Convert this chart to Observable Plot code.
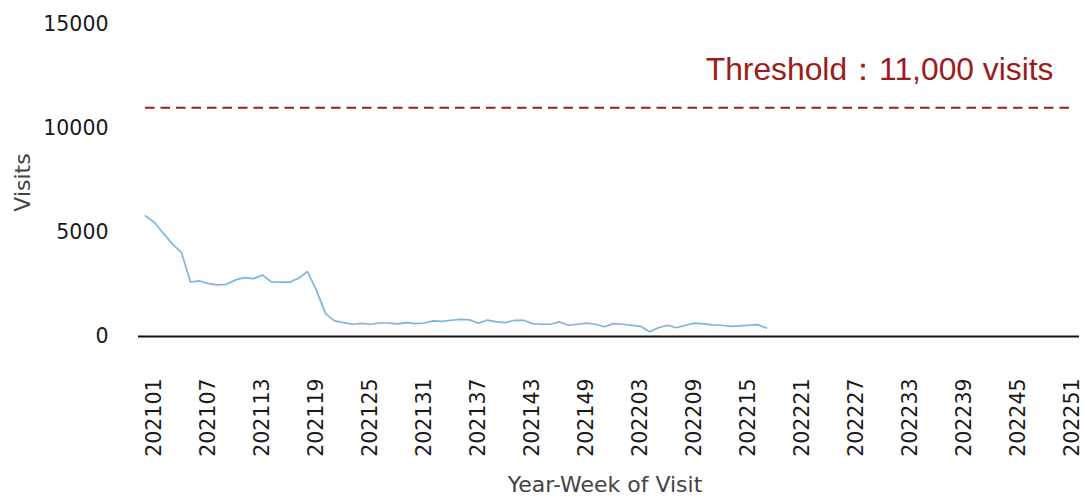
<!DOCTYPE html>
<html><head><meta charset="utf-8">
<script src="https://cdn.jsdelivr.net/npm/d3@7"></script>
<script src="https://cdn.jsdelivr.net/npm/@observablehq/plot@0.6"></script>
<style>body{margin:0;background:#fff} #chart svg{display:block}</style>
</head><body><div id="chart"></div>
<script>
const weeks = [
"202101","202102","202103","202104","202105","202106","202107","202108","202109","202110",
"202111","202112","202113","202114","202115","202116","202117","202118","202119","202120",
"202121","202122","202123","202124","202125","202126","202127","202128","202129","202130",
"202131","202132","202133","202134","202135","202136","202137","202138","202139","202140",
"202141","202142","202143","202144","202145","202146","202147","202148","202149","202150",
"202151","202152",
"202201","202202","202203","202204","202205","202206","202207","202208","202209","202210",
"202211","202212","202213","202214","202215","202216","202217","202218","202219","202220",
"202221","202222","202223","202224","202225","202226","202227","202228","202229","202230",
"202231","202232","202233","202234","202235","202236","202237","202238","202239","202240",
"202241","202242","202243","202244","202245","202246","202247","202248","202249","202250",
"202251","202252"];
const visits = [
5800,5480,4950,4440,4030,2620,2670,2540,2480,2510,
2720,2830,2780,2950,2620,2610,2610,2800,3120,2220,
1100,750,670,590,630,590,650,650,610,670,
620,650,750,730,780,820,800,640,790,700,
670,780,780,620,590,590,700,540,590,640,
590,470,620,590,540,490,230,420,540,420,
540,640,610,560,540,490,510,540,570,410];
const tickWeeks = ["202101","202107","202113","202119","202125","202131","202137","202143","202149",
"202203","202209","202215","202221","202227","202233","202239","202245","202251"];
const yTicks = [0,5000,10000,15000];
const threshold = 11000;
const thresholdLabel = "Threshold：11,000 visits";

const rows = visits.map((v, i) => ({week: weeks[i], visits: v}));
const thresholdRow = [{y: threshold, a: weeks[0], b: weeks[weeks.length - 1]}];

const chart = Plot.plot({
  width: 1085, height: 497,
  marginTop: 24, marginBottom: 161, marginLeft: 138, marginRight: 6,
  style: {fontFamily: "DejaVu Sans", background: "#fff"},
  x: {type: "point", domain: weeks, padding: 0.45},
  y: {domain: [0, 15000]},
  marks: [
    Plot.axisY({ticks: yTicks, tickFormat: d => String(d), tickSize: 0, tickPadding: 30, fontSize: 20.5, label: null, color: "#1a1a1a"}),
    Plot.axisX({ticks: tickWeeks, tickSize: 0, tickPadding: 42, tickRotate: -90, fontSize: 20.5, label: null, dx: 9, color: "#1a1a1a"}),
    Plot.ruleY([0], {stroke: "#111", strokeWidth: 2}),
    Plot.ruleY(thresholdRow, {y: "y", x1: "a", x2: "b", stroke: "#a01c24", strokeWidth: 2, strokeDasharray: "9.5,6"}),
    Plot.lineY(rows, {x: "week", y: "visits", stroke: "#7fb4e2", strokeWidth: 1.7}),
    Plot.text([thresholdLabel], {frameAnchor: "top-right", textAnchor: "end", lineAnchor: "middle", dx: -26, dy: 45, fontSize: 31.8, fill: "#9b1c1c", fontFamily: "Liberation Sans, Arial, sans-serif"}),
    Plot.text(["Visits"], {frameAnchor: "left", textAnchor: "middle", lineAnchor: "middle", rotate: -90, dx: -116, dy: 2, fontSize: 22, fill: "#444"}),
    Plot.text(["Year-Week of Visit"], {frameAnchor: "bottom", textAnchor: "middle", lineAnchor: "middle", dx: -4, dy: 148, fontSize: 22, fill: "#444"})
  ]
});
document.getElementById("chart").appendChild(chart);
</script>
</body></html>
